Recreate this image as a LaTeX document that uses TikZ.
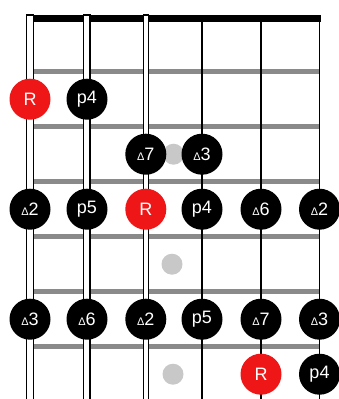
\documentclass[tikz,border=0pt]{standalone}
\usepackage{fontspec}
\setmainfont{Liberation Sans}
\definecolor{rootred}{RGB}{238,22,22}
\definecolor{fretgray}{RGB}{138,138,138}
\definecolor{inlaygray}{RGB}{200,200,200}
\newcommand{\tri}{{\fontsize{11}{11}\selectfont Δ}}
\tikzset{
  note/.style={circle, fill=black, text=white, minimum size=41pt, inner sep=0pt,
    font=\fontsize{18}{18}\selectfont},
  rootnote/.style={note, fill=rootred},
  fretbar/.style={draw=fretgray, line width=5pt},
  thickstring/.style={draw=black, fill=white, line width=1.1pt},
  thinstring/.style={draw=black, line width=1.4pt},
  inlay/.style={circle, fill=inlaygray, minimum size=21pt, inner sep=0pt}
}
\begin{document}
\begin{tikzpicture}[x=1pt, y=-1pt]
\useasboundingbox (0,0) rectangle (339,399);
% frets
\foreach \k in {0,...,5} {
  \draw[fretbar] (30,71.7+55*\k) -- (319,71.7+55*\k);
}
% nut
\fill[black] (30,15) rectangle (320.5,21.5);
% strings
\draw[thickstring] (26.5,15) rectangle (33.5,402);
\draw[thickstring] (83.5,15) rectangle (90,402);
\draw[thickstring] (143.3,15) rectangle (148.3,402);
\draw[thinstring] (202,15) -- (202,402);
\draw[thinstring] (261,15) -- (261,402);
\draw[thinstring] (319.5,15) -- (319.5,402);
% inlays
\node[inlay] (i1) at (173.5,154.2) {};
\node[inlay] (i2) at (172,264.2) {};
\node[inlay] (i3) at (173,374.2) {};
% notes
\node[rootnote] (a1) at (30,99.2) {R};
\node[note] (a2) at (87,99.2) {p4};
\node[note] (b3) at (145.8,154.2) {\tri 7};
\node[note] (b4) at (202,154.2) {\tri 3};
\node[note] (c1) at (30,209.2) {\tri 2};
\node[note] (c2) at (87,209.2) {p5};
\node[rootnote] (c3) at (145.8,209.2) {R};
\node[note] (c4) at (202,209.2) {p4};
\node[note] (c5) at (261,209.2) {\tri 6};
\node[note] (c6) at (319.5,209.2) {\tri 2};
\node[note] (d1) at (30,319.2) {\tri 3};
\node[note] (d2) at (87,319.2) {\tri 6};
\node[note] (d3) at (145.8,319.2) {\tri 2};
\node[note] (d4) at (202,319.2) {p5};
\node[note] (d5) at (261,319.2) {\tri 7};
\node[note] (d6) at (319.5,319.2) {\tri 3};
\node[rootnote] (e5) at (261,374.2) {R};
\node[note] (e6) at (319.5,374.2) {p4};
\end{tikzpicture}
\end{document}
